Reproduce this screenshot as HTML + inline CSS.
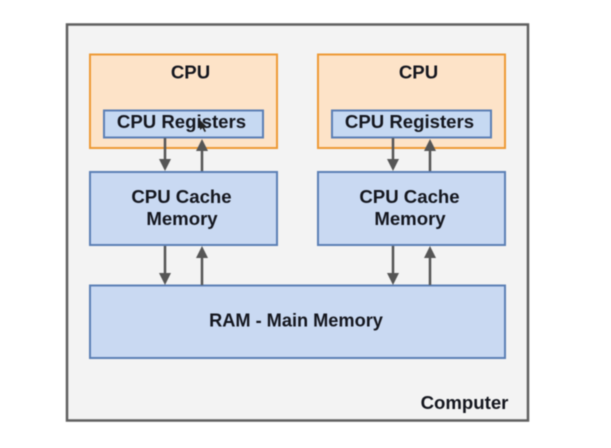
<!DOCTYPE html>
<html><head><meta charset="utf-8"><style>
html,body{margin:0;padding:0;background:#fff}
svg{display:block}
text{font-family:"Liberation Sans",sans-serif;font-weight:bold;fill:#14161e;text-anchor:middle;font-size:18.6px}
#all{filter:blur(0.45px)}
</style></head><body>
<svg width="611" height="448" viewBox="0 0 611 448" xmlns="http://www.w3.org/2000/svg">
<rect width="611" height="448" fill="#fff"/>
<g id="all">
<rect x="67" y="24.5" width="461" height="396" fill="#f3f3f3" stroke="#5f5f5f" stroke-width="2.5"/>
<rect x="90" y="54.5" width="187" height="93.5" fill="#fde3c8" stroke="#ee9a35" stroke-width="2"/>
<rect x="318" y="54.5" width="187" height="93.5" fill="#fde3c8" stroke="#ee9a35" stroke-width="2"/>
<rect x="104" y="110.5" width="159" height="27" fill="#c6d9f2" stroke="#5b7fb5" stroke-width="2"/>
<rect x="332" y="110.5" width="159" height="27" fill="#c6d9f2" stroke="#5b7fb5" stroke-width="2"/>
<rect x="90" y="172" width="187" height="73" fill="#c9d9f2" stroke="#5b7fb5" stroke-width="2"/>
<rect x="318" y="172" width="187" height="73" fill="#c9d9f2" stroke="#5b7fb5" stroke-width="2"/>
<rect x="90" y="285.5" width="415" height="72.5" fill="#c9d9f2" stroke="#5b7fb5" stroke-width="2"/>
<g stroke="#555" stroke-width="2.5" fill="none">
<path d="M165 138V160M202 171V150M393 138V160M430 171V150M165 246V273M202 285V257M393 246V273M430 285V257"/>
</g>
<g fill="#555">
<path d="M159 159h12l-6 12zM196 151h12l-6-12zM387 159h12l-6 12zM424 151h12l-6-12zM159 273h12l-6 12zM196 258h12l-6-12zM387 273h12l-6 12zM424 258h12l-6-12z"/>
</g>
<text x="190.500" y="78.500">CPU</text>
<text x="418.500" y="78.500">CPU</text>
<text x="181.500" y="128">CPU Registers</text>
<text x="409.500" y="128">CPU Registers</text>
<text x="181.500" y="203">CPU Cache</text>
<text x="182" y="225">Memory</text>
<text x="409.500" y="203">CPU Cache</text>
<text x="410" y="225">Memory</text>
<text x="296" y="326.500" style="font-size:18.2px">RAM - Main Memory</text>
<text x="464.500" y="409">Computer</text>
<path d="M200 120l0 10 2.500-2 2 4 1.500-.7-2-4 3-.3z" fill="#222"/>
</g>
</svg>
</body></html>
